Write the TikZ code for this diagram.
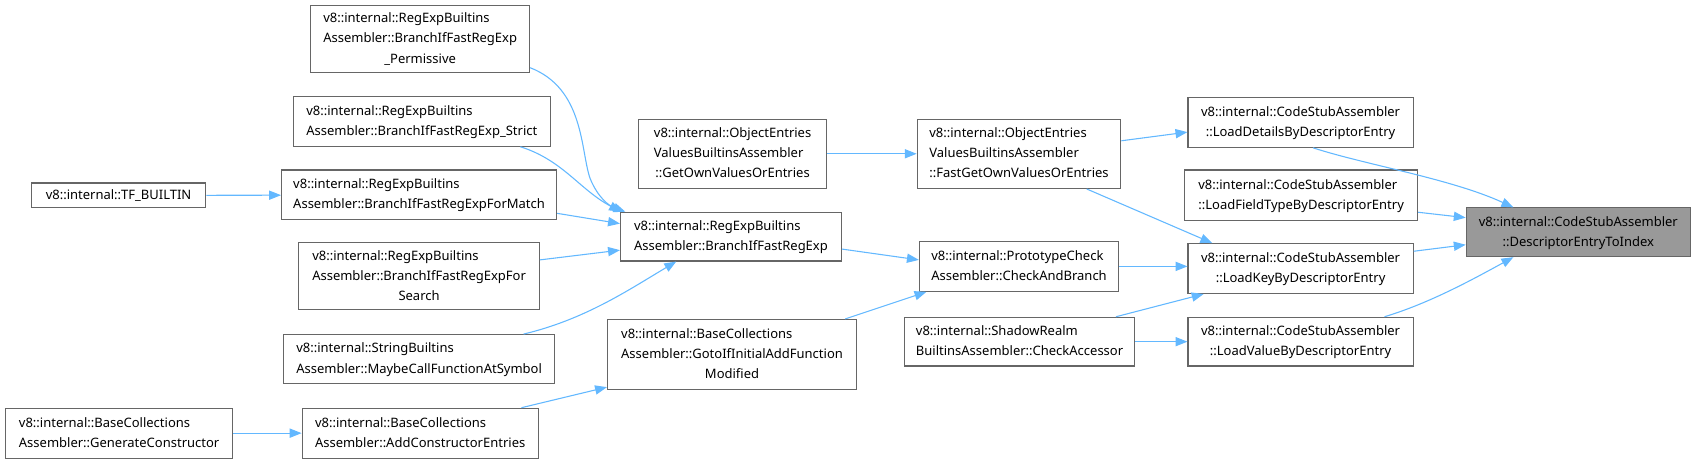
\documentclass[tikz,border=0pt]{standalone}
\usepackage{fontspec}
\setmainfont{Noto Sans}
\usetikzlibrary{arrows.meta}
\definecolor{edgec}{HTML}{63B8FF}
\definecolor{boxc}{HTML}{666666}
\definecolor{fillc}{HTML}{999999}
\newcommand{\tl}[2]{\begin{tabular}{@{}l@{}}#1\multicolumn{1}{@{}c@{}}{#2}\end{tabular}}
\tikzset{
  box/.style={draw=boxc, fill=white, inner sep=0pt, line width=1pt,
    font=\fontsize{12}{18.5}\selectfont},
  hl/.style={fill=fillc},
  edge/.style={draw=edgec, line width=1pt, -{Triangle[length=11pt,width=8.5pt]}}
}
\newcommand{\bx}[7][]{\node[box,#1, minimum width={(#5-#3)*1pt}, minimum height={(#6-#4)*1pt}] (#2) at ({(#3+#5)/2},{(#4+#6)/2}) {#7};}
\begin{document}
\begin{tikzpicture}[x=1pt,y=-1pt]
\useasboundingbox (0,0) rectangle (1568,428);
\bx{perm}{287}{5}{489}{67}{\tl{v8::internal::RegExpBuiltins\\Assembler::BranchIfFastRegExp\\}{\_Permissive}}
\bx{strict}{271}{89}{508}{135}{\tl{v8::internal::RegExpBuiltins\\}{Assembler::BranchIfFastRegExp\_Strict}}
\bx{tf}{29}{169}{190}{192}{v8::internal::TF\_BUILTIN}
\bx{formatch}{260}{157}{514}{203}{\tl{v8::internal::RegExpBuiltins\\}{Assembler::BranchIfFastRegExpForMatch}}
\bx{search}{276}{224}{498}{286}{\tl{v8::internal::RegExpBuiltins\\Assembler::BranchIfFastRegExpFor\\}{Search}}
\bx{maybe}{262}{309}{512}{354}{\tl{v8::internal::StringBuiltins\\}{Assembler::MaybeCallFunctionAtSymbol}}
\bx{gencons}{5}{377}{215}{423}{\tl{v8::internal::BaseCollections\\}{Assembler::GenerateConstructor}}
\bx{addcons}{279}{377}{497}{423}{\tl{v8::internal::BaseCollections\\}{Assembler::AddConstructorEntries}}
\bx{br}{573}{196}{777}{241}{\tl{v8::internal::RegExpBuiltins\\}{Assembler::BranchIfFastRegExp}}
\bx{getown}{590}{110}{763}{174}{\tl{v8::internal::ObjectEntries\\ValuesBuiltinsAssembler\\}{::GetOwnValuesOrEntries}}
\bx{goto}{561}{295}{791}{360}{\tl{v8::internal::BaseCollections\\Assembler::GotoIfInitialAddFunction\\}{Modified}}
\bx{fastget}{847}{110}{1035}{174}{\tl{v8::internal::ObjectEntries\\ValuesBuiltinsAssembler\\}{::FastGetOwnValuesOrEntries}}
\bx{proto}{849}{223}{1033}{269}{\tl{v8::internal::PrototypeCheck\\}{Assembler::CheckAndBranch}}
\bx{shadow}{835}{293}{1048}{338}{\tl{v8::internal::ShadowRealm\\}{BuiltinsAssembler::CheckAccessor}}
\bx{details}{1097}{90}{1305}{136}{\tl{v8::internal::CodeStubAssembler\\}{::LoadDetailsByDescriptorEntry}}
\bx{field}{1094}{157}{1309}{204}{\tl{v8::internal::CodeStubAssembler\\}{::LoadFieldTypeByDescriptorEntry}}
\bx{key}{1097}{225}{1305}{271}{\tl{v8::internal::CodeStubAssembler\\}{::LoadKeyByDescriptorEntry}}
\bx{value}{1097}{293}{1305}{338}{\tl{v8::internal::CodeStubAssembler\\}{::LoadValueByDescriptorEntry}}
\bx[hl]{D}{1354}{192}{1561}{237}{\tl{v8::internal::CodeStubAssembler\\}{::DescriptorEntryToIndex}}
% edges
\draw[edge] ([yshift=5pt]perm.south east) .. controls (540,82) and (536,140) .. (545,165) .. controls (552,182) and (562,190) .. ([xshift=5pt]br.north west);
\draw[edge] ([xshift=-28pt]strict.south east) .. controls (520,148) and (535,175) .. ([xshift=1pt]br.north west);
\draw[edge] ([yshift=-17pt]formatch.east) -- ([yshift=12pt]br.west);
\draw[edge] ([yshift=15pt]search.east) -- ([yshift=-12.5pt]br.west);
\draw[edge] ([xshift=-29pt]maybe.north east) .. controls (540,295) and (580,268) .. ([xshift=52pt]br.south west);
\draw[edge] (tf) -- (formatch);
\draw[edge] (gencons) -- (addcons);
\draw[edge] ([xshift=-16pt]addcons.north east) -- ([yshift=3pt]goto.south west);
\draw[edge] ([yshift=-11.5pt]br.east) -- ([yshift=6pt]proto.west);
\draw[edge] ([xshift=-11pt]goto.north east) -- ([xshift=7pt]proto.south west);
\draw[edge] (getown) -- (fastget);
\draw[edge] ([yshift=12pt]fastget.east) -- ([yshift=-9pt]details.west);
\draw[edge] ([xshift=-32pt]fastget.south east) -- ([xshift=23pt]key.north west);
\draw[edge] (proto.east) -- (proto.east -| key.west);
\draw[edge] ([xshift=-18pt]shadow.north east) -- ([xshift=15pt]key.south west);
\draw[edge] (shadow.east) -- (shadow.east -| value.west);
\draw[edge] ([xshift=-93pt]details.south east) .. controls (1260,152) and (1340,165) .. ([xshift=44pt]D.north west);
\draw[edge] ([yshift=-15.5pt]field.east) -- ([yshift=13.5pt]D.west);
\draw[edge] ([yshift=16pt]key.east) -- ([yshift=-11.5pt]D.west);
\draw[edge] ([xshift=-27pt]value.north east) .. controls (1320,280) and (1360,258) .. ([xshift=44pt]D.south west);
\end{tikzpicture}
\end{document}
